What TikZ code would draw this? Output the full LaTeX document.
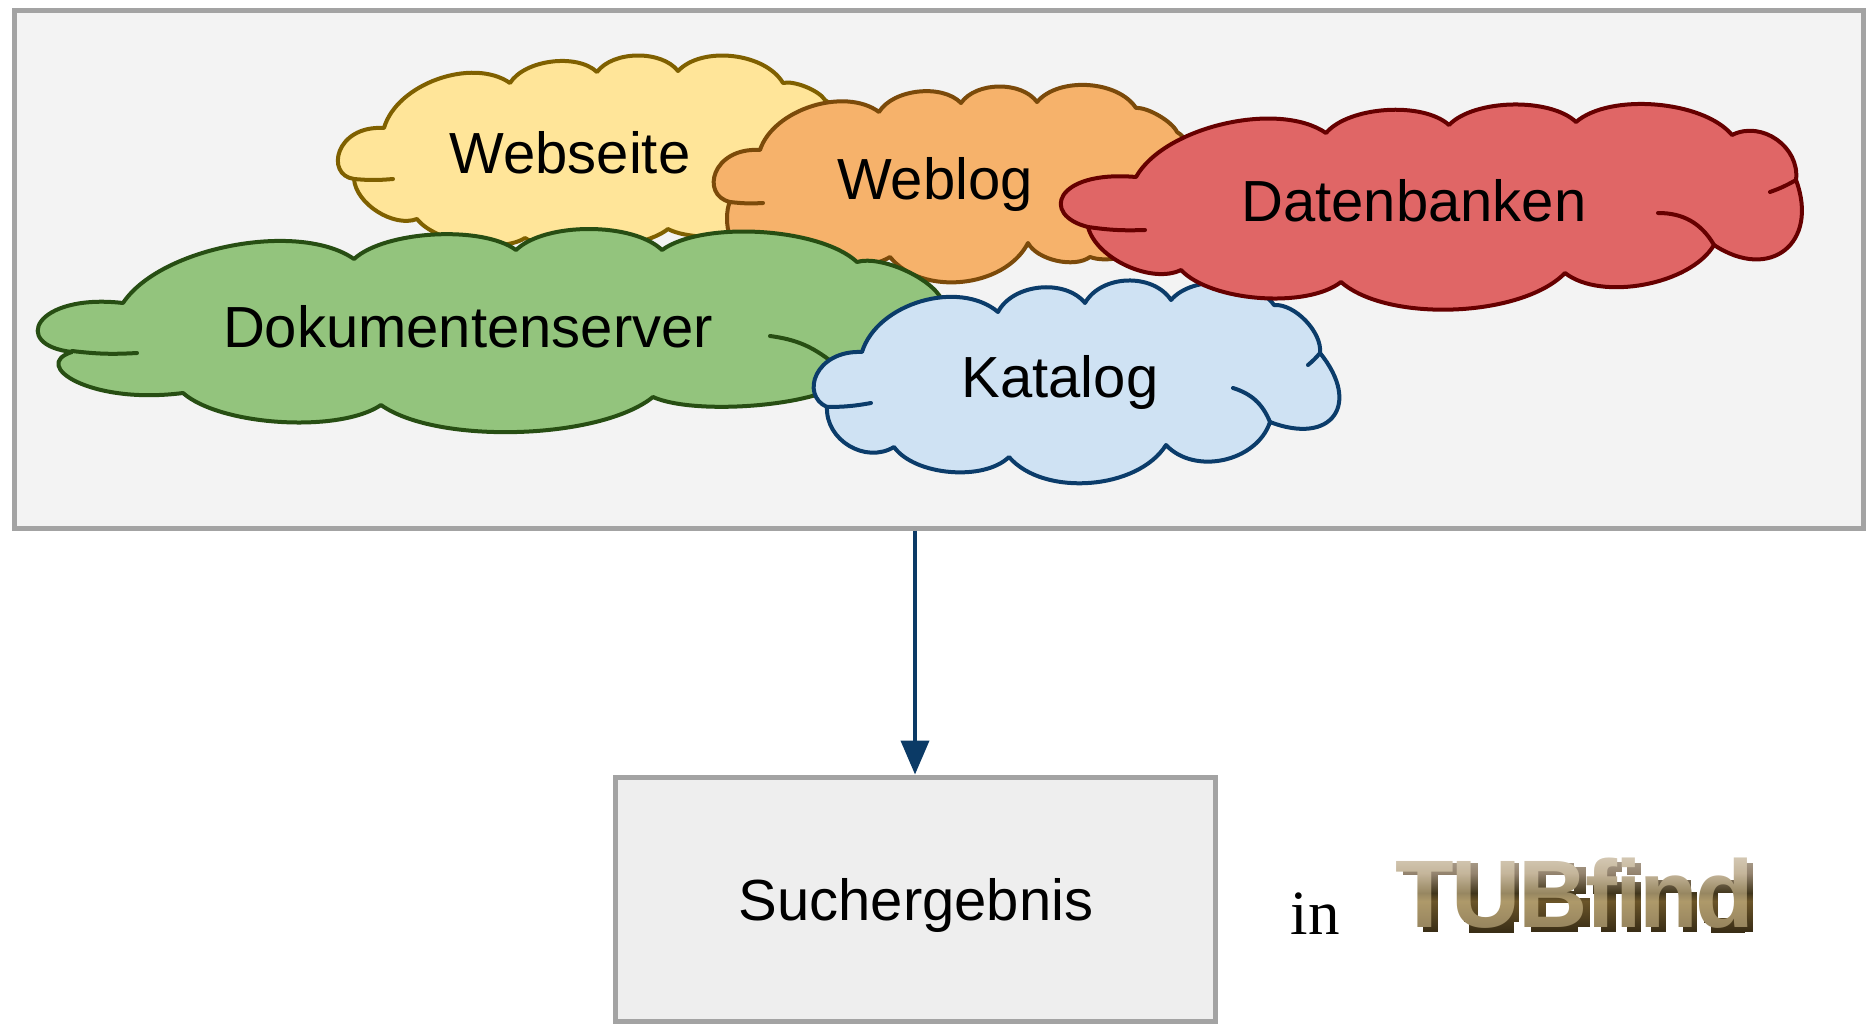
\documentclass[tikz,border=0pt]{standalone}
\usepackage{fontspec}
\setmainfont{Liberation Sans}
\newfontfamily\serifin{Liberation Serif}
\newfontfamily\logofont[LetterSpace=-2.5]{Liberation Sans}
\usetikzlibrary{arrows.meta,shadings,calc}
\definecolor{logoA}{HTML}{E8E1DB}
\definecolor{logoB}{HTML}{94846F}
\definecolor{logoC}{HTML}{050402}
\definecolor{logoD}{HTML}{6B5529}
\definecolor{logoE}{HTML}{41361C}
\definecolor{logoMain}{HTML}{73664D}
\pgfdeclareverticalshading{logoshade}{100bp}{
  color(0bp)=(logoC);
  color(15bp)=(logoC);
  color(46bp)=(logoD);
  color(50bp)=(logoE);
  color(60bp)=(logoB);
  color(85bp)=(logoA);
  color(100bp)=(logoA)}
\definecolor{panelfill}{HTML}{F3F3F3}
\definecolor{panelline}{HTML}{A3A3A3}
\definecolor{resultfill}{HTML}{EEEEEE}
\definecolor{arrowblue}{HTML}{0B3A66}
\definecolor{yfill}{HTML}{FFE599}\definecolor{yline}{HTML}{7F6000}
\definecolor{ofill}{HTML}{F6B26B}\definecolor{oline}{HTML}{7B4A0A}
\definecolor{gfill}{HTML}{93C47D}\definecolor{gline}{HTML}{274E13}
\definecolor{bfill}{HTML}{CFE2F3}\definecolor{bline}{HTML}{0B3C6A}
\definecolor{rfill}{HTML}{E06666}\definecolor{rline}{HTML}{660000}
\tikzset{
  cloudshape/.style 2 args={fill=#1,draw=#2,line width=4pt,line join=round},
  cloudstub/.style={draw=#1,line width=4pt,line cap=round},
  lobe/.style={to path={.. controls ($(\tikztostart)!.2!(\tikztotarget)!1.333*#1pt!90:(\tikztotarget)$) and ($(\tikztotarget)!.2!(\tikztostart)!1.333*#1pt!-90:(\tikztostart)$) .. (\tikztotarget) \tikztonodes}},
  label/.style={font=\fontsize{58}{58}\selectfont,text=black,inner sep=0pt},
  boxnode/.style={draw=panelline,line width=5pt,inner sep=0pt},
  flow/.style={draw=arrowblue,line width=4pt,-{Triangle[length=34pt,width=28pt]}},
  logotext/.style={inner sep=0pt,font=\logofont\bfseries\fontsize{96}{96}\selectfont}
}
\begin{document}
\begin{tikzpicture}[x=1pt,y=-1pt]
\useasboundingbox (0,0) rectangle (1868,1024);
\fill[white] (0,0) rectangle (1868,1024);
\node[boxnode,fill=panelfill,minimum width=1849pt,minimum height=517pt] (panel) at (938.5,269.5) {};
% Webseite
\draw[cloudshape={yfill}{yline}] (384,128) to[lobe=28] (510,83) to[lobe=16] (597,72) to[lobe=16] (678,71) to[lobe=21] (783,83) to[lobe=5] (825,100) to[lobe=10] (860,180) to[lobe=15] (780,225) to[lobe=10] (668,229) to[lobe=15] (525,238) to[lobe=15] (417,219) to[lobe=15] (354,179) .. controls (325,175) and (335,125) .. (384,128) -- cycle;
\draw[cloudstub=yline] (354,179) to[bend right=5] (393,179);
% Weblog
\draw[cloudshape={ofill}{oline}] (760,150) to[lobe=26] (879,112) to[lobe=16] (961,103) to[lobe=16] (1037,102) to[lobe=20] (1136,108) to[lobe=5] (1177,132) to[lobe=12] (1190,200) to[lobe=20] (1090,257) to[lobe=11] (1028,243) to[lobe=32] (890,257) to[lobe=20] (730,235) to[lobe=3] (730,202) .. controls (700,195) and (712,147) .. (760,150) -- cycle;
\draw[cloudstub=oline] (730,202) to[bend right=5] (763,203);
% Dokumentenserver
\draw[cloudshape={gfill}{gline}] (123,303) to[lobe=36] (354,259) to[lobe=20] (516,250) to[lobe=21] (662,250) to[lobe=24] (857,262) to[lobe=12] (942,300) to[lobe=30] (840,385) to[lobe=15] (653,397) to[lobe=31] (381,405) to[lobe=23] (183,393) .. controls (90,405) and (30,365) .. (72,352) .. controls (10,345) and (35,293) .. (123,303) -- cycle;
\draw[cloudstub=gline] (72,351) to[bend right=5] (137,353);
\draw[cloudstub=gline] (770,336) to[bend left=15] (832,362);
% Katalog
\draw[cloudshape={bfill}{bline}] (862,352) to[lobe=32] (998,312) to[lobe=20] (1085,303) to[lobe=21] (1171,300) to[lobe=20] (1274,305) to[lobe=12] (1320,353) to[lobe=48] (1270,422) to[lobe=27] (1166,445) to[lobe=32] (1009,457) to[lobe=20] (894,447) to[lobe=22] (827,407) .. controls (800,395) and (815,350) .. (862,352) -- cycle;
\draw[cloudstub=bline] (827,407) to[bend right=5] (871,403);
\draw[cloudstub=bline] (1320,353) to[bend left=5] (1308,365);
\draw[cloudstub=bline] (1233,388) to[bend left=25] (1270,422);
% Datenbanken
\draw[cloudshape={rfill}{rline}] (1136,177) to[lobe=32] (1326,133) to[lobe=19] (1449,125) to[lobe=19] (1576,122) to[lobe=24] (1732,135) to[lobe=22] (1796,180) to[lobe=48] (1714,245) to[lobe=26] (1565,273) to[lobe=32] (1341,282) to[lobe=22] (1181,270) to[lobe=19] (1088,227) .. controls (1040,215) and (1055,170) .. (1136,177) -- cycle;
\draw[cloudstub=rline] (1088,227) to[bend right=5] (1145,230);
\draw[cloudstub=rline] (1796,180) to[bend left=5] (1770,192);
\draw[cloudstub=rline] (1658,213) to[bend left=30] (1714,245);
% labels
\node[label] (webseite) at (570,153) {Webseite};
\node[label] (weblog) at (935,185) {Weblog};
\node[label] (datenbanken) at (1414,201) {Datenbanken};
\node[label] (dokumente) at (468,327) {Dokumentenserver};
\node[label] (katalog) at (1060,383) {Katalog};
% result
\node[boxnode,fill=resultfill,minimum width=600pt,minimum height=244pt] (result) at (915,899) {};
\node[label] (suche) at (916,905) {Suchergebnis};
\draw[flow] (result.north |- panel.south) -- (result.north);
% in + logo
\node[inner sep=0pt,font=\serifin\fontsize{63}{63}\selectfont] (inword) at (1315,914) {in};
% letter shadow: bars behind each glyph, offset to the lower right
\foreach \ox/\a/\b/\c/\d in {
  1396.5/22/37/-57/0, 1396.5/2/57/-69/-57,
  1452.8/7/21/-69/-10, 1452.8/48/62/-69/-10, 1452.8/12/57/-14/1,
  1519.7/7/22/-69/0, 1519.7/7/50/-69/-57, 1519.7/7/52/-41/-29, 1519.7/7/54/-12/0, 1519.7/50/62/-65/-38, 1519.7/52/66/-34/-5,
  1586.6/10/25/-66/0, 1586.6/2/31/-50/-38, 1586.6/16/31/-70/-60,
  1616.2/7/21/-50/0, 1616.2/7/21/-69/-57,
  1640.5/6/21/-51/0, 1640.5/38/52/-40/0, 1640.5/12/46/-52/-39,
  1696.8/38/52/-69/0, 1696.8/3/17/-42/-9, 1696.8/10/44/-14/1, 1696.8/10/44/-52/-39}
  {\fill[black] ({\ox+\a+4},{928+\c+4}) rectangle ({\ox+\b+4},{928+\d+4});}
\node[logotext,text=logoMain] (logo) at (1575,893) {TUBfind};
\begin{scope}[blend mode=screen]
\shade[shading=logoshade] (1385,843) rectangle (1765,943);
\end{scope}
\end{tikzpicture}
\end{document}
